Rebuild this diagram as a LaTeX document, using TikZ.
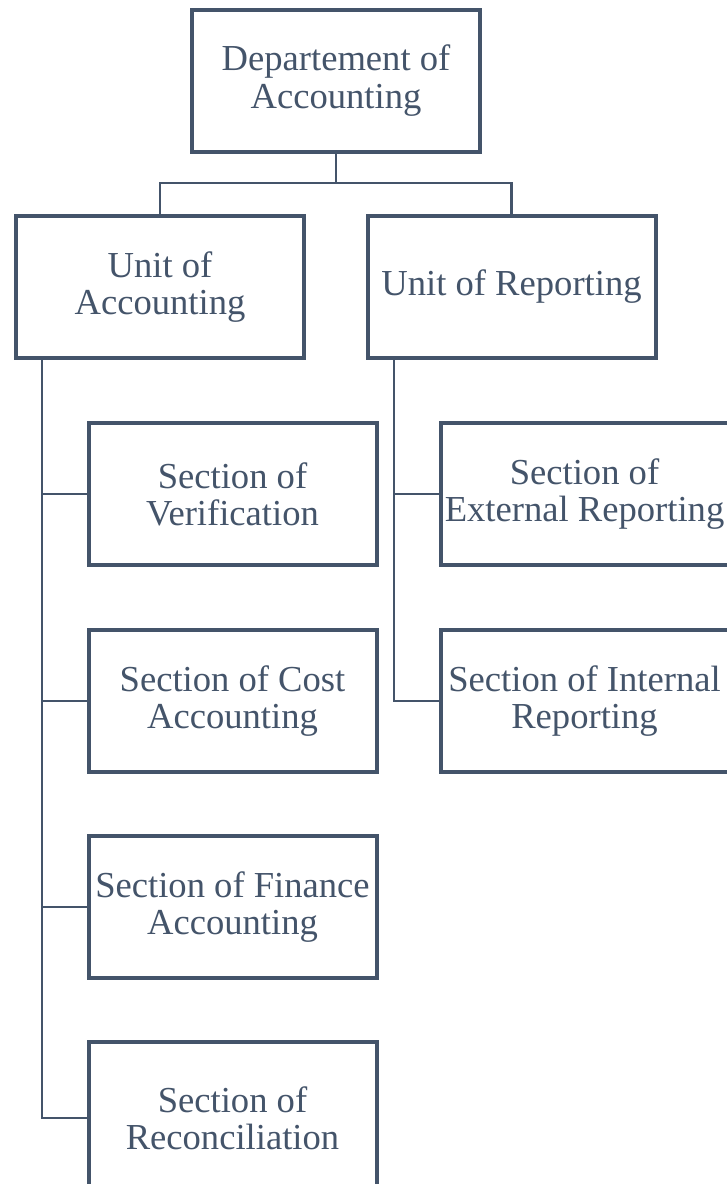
\documentclass[tikz,border=0pt]{standalone}
\usepackage{fontspec}
\setmainfont{Liberation Serif}
\usepackage{xcolor}
\definecolor{slate}{HTML}{44546A}
\usetikzlibrary{positioning,calc}
\tikzset{
  every node/.append style={font=\fontsize{18.3}{18.6}\selectfont},
}
\begin{document}
\begin{tikzpicture}[
  x=0.5pt, y=-0.5pt,
  box/.style={draw=slate, line width=2pt, fill=white, text=slate, align=center, minimum width=144pt, minimum height=71pt, inner sep=2pt},
  link/.style={draw=slate, line width=1.3pt}
]
\clip (0,0) rectangle (727,1184);
\fill[white] (0,0) rectangle (727,1184);

% Row 1: Department
\node[box] (dept) at (336,80.5) {Departement of\\Accounting};

% Row 2: Units
\node[box] (uacc) at (160,287) {Unit of\\Accounting};
\node[box] (urep) at (511.5,287) {Unit of Reporting};

% Sections under the accounting unit
\node[box] (verif) at (232.5,494) {Section of\\Verification};
\node[box] (cost) at (232.5,701) {Section of Cost\\Accounting};
\node[box] (fin) at (232.5,907) {Section of Finance\\Accounting};
\node[box, minimum height=76pt] (recon) at (232.5,1118) {Section of\\Reconciliation};

% Sections under the reporting unit
\node[box] (extrep) at (584.5,494) {Section of\\External Reporting};
\node[box] (intrep) at (584.5,701) {Section of Internal\\Reporting};

% Edges: department to units
\coordinate (bus) at (336,183);
\draw[link] (dept.south) -- (bus);
\draw[link] (uacc.north) |- (bus) -| (urep.north);

% Trunks down from the units
\coordinate (ltrunk) at (42,360);
\coordinate (rtrunk) at (394,360);
\foreach \s in {verif,cost,fin,recon}
  \draw[link] (ltrunk) |- (\s.west);
\foreach \s in {extrep,intrep}
  \draw[link] (rtrunk) |- (\s.west);

\end{tikzpicture}
\end{document}
